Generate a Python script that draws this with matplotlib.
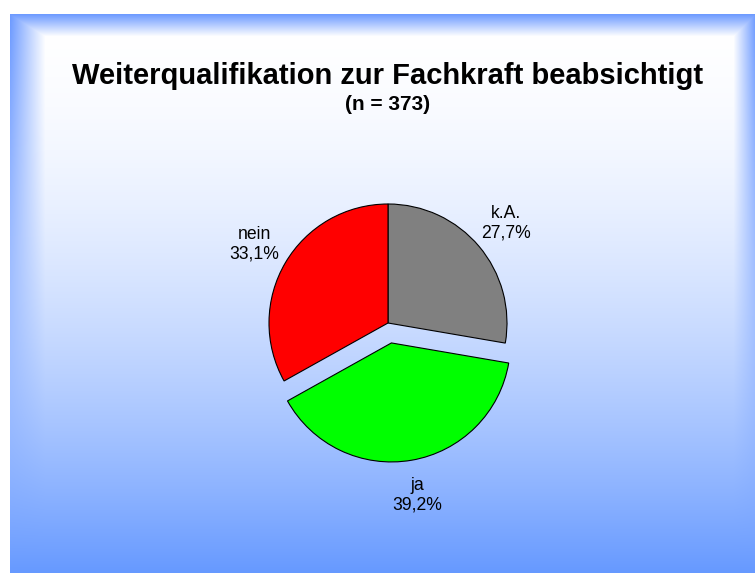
import matplotlib
matplotlib.use("Agg")
import matplotlib.pyplot as plt
import numpy as np

# data
labels = ["k.A.", "ja", "nein"]
values = [27.7, 39.2, 33.1]
pct_text = ["27,7%", "39,2%", "33,1%"]
colors = ["#808080", "#00FF00", "#FF0000"]
explode = [0, 0.17, 0]

title = "Weiterqualifikation zur Fachkraft beabsichtigt"
subtitle = "(n = 373)"

W, H = 755, 574
plt.rcParams['font.family'] = ['Liberation Sans', 'DejaVu Sans']

fig = plt.figure(figsize=(W / 100, H / 100), dpi=100)

#background: white margin, blue gradient panel with bevel edges
bg = np.ones((H, W, 3))
blue = np.array([102, 153, 255]) / 255.0
x0, x1, y0, y1 = 10, 755, 14, 573
yy, xx = np.mgrid[0:H, 0:W]
tl = np.clip((yy - y0) / (y1 - y0), 0, 1)
t = tl ** 1.8
panel = (1 - t)[..., None] * np.ones(3) + t[..., None] * blue
fade = 1 - tl  # bevel fades out going down
wt = np.clip(1 - (yy - y0) / 22.0, 0, 1)
wl = np.clip(1 - (xx - x0) / 35.0, 0, 1) * fade
wr = np.clip(1 - (x1 - xx) / 22.0, 0, 1) * fade
wb = np.maximum(np.maximum(wt, wl), wr)[..., None]
edge = np.array([110, 155, 255]) / 255.0
panel = panel * (1 - wb) + edge * wb
inside = (xx >= x0) & (xx < x1) & (yy >= y0) & (yy < y1)
bg[inside] = panel[inside]
fig.figimage(bg, xo=0, yo=0, origin='upper', zorder=0)

# pie axes, centre at (388, 323) px, radius 119 px
cx, cy, r = 388, 323, 119
half = 150
ax = fig.add_axes([(cx - half) / W, (H - cy - half) / H, 2 * half / W, 2 * half / H])
ax.set_zorder(2)
ax.patch.set_alpha(0)
combined = [l + "\n" + p for l, p in zip(labels, pct_text)]
wedges, texts = ax.pie(values, labels=combined, colors=colors, explode=explode,
                       startangle=90, counterclock=False, labeldistance=1.3,
                       wedgeprops=dict(edgecolor='black', linewidth=0.8),
                       textprops=dict(fontsize=12.7, color='black', linespacing=1.2))
for tx in texts:
    tx.set_ha('center')
    tx.set_va('center')
    tx.set_multialignment('center')
ax.set_xlim(-half / r, half / r)
ax.set_ylim(-half / r, half / r)
ax.set_aspect('equal')
ax.axis('off')

fig.text(cx / W, 1 - 76 / H, title, ha='center', va='center', fontsize=21, fontweight='bold', zorder=3)
fig.text(cx / W, 1 - 104 / H, subtitle, ha='center', va='center', fontsize=15, fontweight='bold', zorder=3)

fig.savefig("out.png", dpi=100)
